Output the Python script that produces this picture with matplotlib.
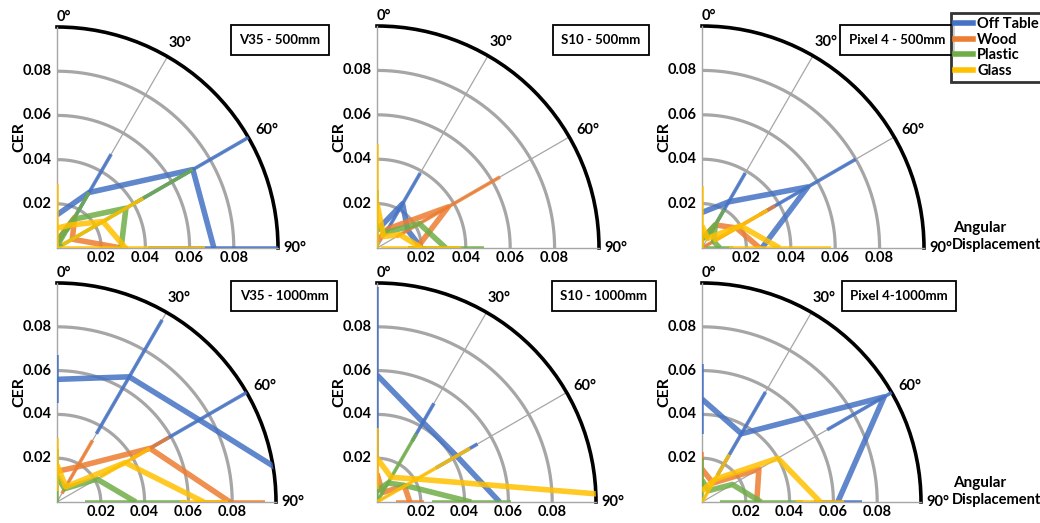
import numpy as np
import matplotlib.pyplot as plt
from matplotlib.lines import Line2D

plt.rcParams['font.family'] = ['Lato', 'DejaVu Sans']
plt.rcParams['font.weight'] = 'bold'

angles = [0, 30, 60, 90]
materials = ['Off Table', 'Wood', 'Plastic', 'Glass']
colors = ['#4472C4', '#ED7D31', '#70AD47', '#FFC000']
rticks = [0.02, 0.04, 0.06, 0.08]
titles = ['V35 - 500mm', 'S10 - 500mm', 'Pixel 4 - 500mm',
          'V35 - 1000mm', 'S10 - 1000mm', 'Pixel 4-1000mm']

# CER at 0/30/60/90 deg, rows: Off Table, Wood, Plastic, Glass
v35_500 = [[0.015, 0.029, 0.071, 0.071],
           [0.003, 0.016, 0.008, 0.029],
           [0.003, 0.015, 0.036, 0.029],
           [0.009, 0.012, 0.024, 0.031]]
v35_500_err = [[0.0, 0.020, 0.030, 0.030],
               [0.0, 0.0, 0.0, 0.003],
               [0.0, 0.014, 0.035, 0.0],
               [0.020, 0.0, 0.021, 0.036]]

s10_500 = [[0.008, 0.023, 0.016, 0.020],
           [0.003, 0.010, 0.037, 0.018],
           [0.010, 0.008, 0.022, 0.031],
           [0.020, 0.006, 0.012, 0.020]]
s10_500_err = [[0.0, 0.016, 0.0, 0.0],
               [0.0, 0.0, 0.027, 0.004],
               [0.016, 0.0, 0.0, 0.017],
               [0.027, 0.0, 0.0, 0.018]]

px4_500 = [[0.016, 0.024, 0.055, 0.027],
           [0.004, 0.012, 0.018, 0.026],
           [0.004, 0.012, 0.006, 0.008],
           [0.010, 0.005, 0.020, 0.035]]
px4_500_err = [[0.0, 0.015, 0.025, 0.0],
               [0.0, 0.0, 0.020, 0.0],
               [0.006, 0.008, 0.0, 0.006],
               [0.018, 0.0, 0.014, 0.023]]

v35_1000 = [[0.056, 0.066, 0.075, 0.125],
            [0.014, 0.0185, 0.049, 0.079],
            [0.012, 0.007, 0.021, 0.036],
            [0.017, 0.008, 0.036, 0.067]]
v35_1000_err = [[0.011, 0.030, 0.026, 0.0],
                [0.0, 0.014, 0.010, 0.016],
                [0.012, 0.0, 0.0, 0.023],
                [0.012, 0.0, 0.013, 0.011]]

s10_1000 = [[0.058, 0.042, 0.042, 0.056],
            [0.013, 0.005, 0.0145, 0.015],
            [0.005, 0.010, 0.015, 0.043],
            [0.020, 0.013, 0.021, 0.145]]
s10_1000_err = [[0.040, 0.010, 0.011, 0.0],
                [0.005, 0.0, 0.0, 0.0065],
                [0.003, 0.026, 0.0, 0.018],
                [0.014, 0.0, 0.028, 0.0]]

px4_1000 = [[0.047, 0.036, 0.096, 0.062],
            [0.015, 0.010, 0.030, 0.025],
            [0.010, 0.006, 0.016, 0.027],
            [0.005, 0.012, 0.040, 0.054]]
px4_1000_err = [[0.016, 0.022, 0.030, 0.011],
                [0.008, 0.0, 0.0, 0.0],
                [0.010, 0.0, 0.0, 0.019],
                [0.0, 0.013, 0.0, 0.011]]

panels = [(v35_500, v35_500_err), (s10_500, s10_500_err), (px4_500, px4_500_err),
          (v35_1000, v35_1000_err), (s10_1000, s10_1000_err), (px4_1000, px4_1000_err)]

W, H = 1040, 523
# origin pixel and radius of each quarter
spots = [(57, 248, 221), (377, 248, 222), (702, 248, 222),
         (57, 502, 219), (377, 502, 219), (702, 502, 219)]
title_pos = [(280, 40), (601, 40), (897, 40), (284, 296), (604, 296), (899, 296)]

fig = plt.figure(figsize=(W / 100, H / 100), dpi=100)
th = np.deg2rad(angles)
arc = np.linspace(0, np.pi / 2, 200)

for i, ((vals, errs), (x0, y0, R)) in enumerate(zip(panels, spots)):
    ax = fig.add_axes([x0 / W, 1 - y0 / H, R / W, R / H], projection='polar')
    ax.set_theta_zero_location('N')
    ax.set_theta_direction(-1)
    ax.set_thetamin(0)
    ax.set_thetamax(90)
    ax.set_rlim(0, 0.1)
    ax.set_xticks([])
    ax.set_yticks([])
    ax.grid(False)
    ax.spines['polar'].set_color('black')
    ax.spines['polar'].set_linewidth(2.6)
    for s in ['start', 'end', 'inner']:
        ax.spines[s].set_color('#a6a6a6')
        ax.spines[s].set_linewidth(1.0)

    for r in rticks:
        ax.plot(arc, [r] * len(arc), color='#a6a6a6', lw=2.3, zorder=1)
    for a in [30, 60]:
        ax.plot([np.deg2rad(a)] * 2, [0, 0.1], color='#a6a6a6', lw=0.9, zorder=1)

    for k in range(4):
        v = np.array(vals[k])
        e = np.array(errs[k])
        ax.plot(th, v, color=colors[k], lw=4.0, alpha=0.85, zorder=3 + k,
                solid_capstyle='butt')
        for j in range(4):
            if e[j] > 0:
                ax.plot([th[j], th[j]], [max(v[j] - e[j], 0), v[j] + e[j]],
                        color=colors[k], lw=2.6, alpha=0.85, zorder=3 + k,
                        solid_capstyle='butt')

    for r in rticks:
        ax.annotate(f'{r:.2f}', xy=(0, r), xytext=(-4, 0), textcoords='offset points',
                    ha='right', va='center', fontsize=10.5, annotation_clip=False)
        ax.annotate(f'{r:.2f}', xy=(np.pi / 2, r), xytext=(0, -2), textcoords='offset points',
                    ha='center', va='top', fontsize=10.5, annotation_clip=False)

    ax.annotate('0°', xy=(0, 0.1), xytext=(0, 2), textcoords='offset points',
                ha='left', va='bottom', fontsize=10.5, annotation_clip=False)
    ax.annotate('30°', xy=(np.deg2rad(30), 0.1), xytext=(1, 5), textcoords='offset points',
                ha='left', va='bottom', fontsize=10.5, annotation_clip=False)
    ax.annotate('60°', xy=(np.deg2rad(60), 0.1), xytext=(5, 0), textcoords='offset points',
                ha='left', va='bottom', fontsize=10.5, annotation_clip=False)
    ax.annotate('90°', xy=(np.pi / 2, 0.1), xytext=(4, 0), textcoords='offset points',
                ha='left', va='center', fontsize=10.5, annotation_clip=False)

    ax.text(-0.17, 0.5, 'CER', transform=ax.transAxes, rotation=90,
            ha='center', va='center', fontsize=11.5)

    tx, ty = title_pos[i]
    fig.text(tx / W, 1 - ty / H, titles[i], ha='center', va='center', fontsize=9.5,
             bbox=dict(boxstyle='square,pad=0.65', fc='white', ec='black', lw=1.3))

for yy in [228, 483]:
    fig.text(953 / W, 1 - yy / H, 'Angular', ha='left', va='center', fontsize=11)
    fig.text(952 / W, 1 - (yy + 17) / H, 'Displacement', ha='left', va='center', fontsize=10.5)

handles = [Line2D([], [], color=c, lw=4) for c in colors]
leg = fig.legend(handles, materials, loc='upper left', bbox_to_anchor=(951 / W, 1 - 13 / H),
                 fontsize=10.5, frameon=True, fancybox=False, handlelength=1.2,
                 handletextpad=0.3, labelspacing=0.1, borderpad=0.3, borderaxespad=0)
leg.get_frame().set_edgecolor('black')
leg.get_frame().set_linewidth(2)

fig.savefig('out.png', dpi=100)
